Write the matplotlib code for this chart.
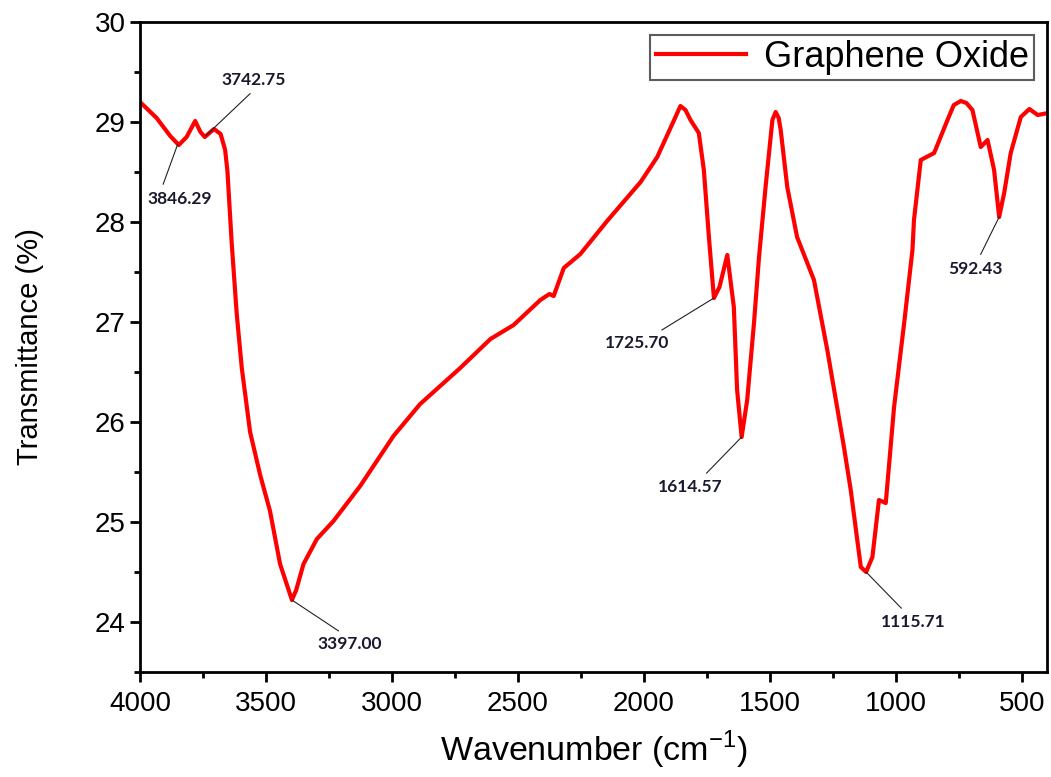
import numpy as np
import matplotlib
matplotlib.use("Agg")
import matplotlib.pyplot as plt
from matplotlib.ticker import MultipleLocator

# --- FTIR spectrum of graphene oxide ---
wavenumber = [4000, 3934, 3880, 3846, 3815, 3781, 3760, 3743, 3706, 3680, 3662,
              3653, 3636, 3616, 3596, 3563, 3523, 3484, 3444, 3410, 3397, 3380,
              3351, 3298, 3232, 3126, 2994, 2888, 2729, 2609, 2517, 2411, 2375,
              2358, 2318, 2252, 2146, 2013, 1947, 1880, 1855, 1835, 1815, 1782,
              1762, 1742, 1722, 1700, 1669, 1643, 1630, 1612, 1590, 1563, 1543,
              1517, 1490, 1477, 1465, 1457, 1431, 1392, 1325, 1272, 1206, 1179,
              1139, 1118, 1093, 1067, 1040, 1007, 967, 934, 928, 901, 848, 795,
              770, 742, 720, 696, 663, 636, 610, 590, 570, 544, 504, 470, 437, 395]
transmittance = [29.20, 29.04, 28.86, 28.77, 28.85, 29.01, 28.90, 28.85, 28.93, 28.88, 28.72,
                 28.51, 27.79, 27.08, 26.54, 25.90, 25.47, 25.11, 24.58, 24.32, 24.22, 24.32,
                 24.58, 24.83, 25.01, 25.36, 25.86, 26.18, 26.54, 26.83, 26.97, 27.22, 27.28,
                 27.26, 27.54, 27.68, 28.01, 28.40, 28.65, 29.02, 29.16, 29.12, 29.02, 28.89,
                 28.52, 27.85, 27.24, 27.35, 27.67, 27.15, 26.32, 25.85, 26.22, 26.99, 27.65,
                 28.35, 29.02, 29.10, 29.04, 28.92, 28.35, 27.85, 27.42, 26.72, 25.75, 25.32,
                 24.55, 24.50, 24.65, 25.22, 25.19, 26.15, 26.99, 27.72, 28.02, 28.62, 28.69, 29.02,
                 29.17, 29.21, 29.19, 29.12, 28.75, 28.82, 28.52, 28.05, 28.29, 28.69, 29.05, 29.13, 29.07, 29.09]

# peak labels: text, peak position, label position, where the leader meets the label
peak_labels = ["3846.29", "3742.75", "3397.00", "1725.70", "1614.57", "1115.71", "592.43"]
peak_xy = [(3850, 28.78), (3740, 28.86), (3397, 24.22), (1722, 27.24),
           (1612, 25.85), (1118, 24.50), (590, 28.05)]
label_xy = [(3841, 28.23), (3547, 29.42), (3166, 23.78), (2025, 26.79),
            (1815, 25.35), (930, 24.00), (685, 27.53)]
leader_rel = [(0.2, 1.0), (0.53, 0.0), (0.44, 1.0), (0.75, 1.0),
              (0.66, 1.0), (0.4, 1.0), (0.54, 1.0)]

plt.rcParams['font.family'] = ['Liberation Sans', 'DejaVu Sans']
plt.rcParams['mathtext.fontset'] = 'custom'
plt.rcParams['mathtext.rm'] = 'Liberation Sans'

fig = plt.figure(figsize=(10.51, 7.77), dpi=100)
ax = fig.add_axes([0.1332, 0.1351, 0.863, 0.8366])

ax.plot(wavenumber, transmittance, color='#ff0000', lw=3.0,
        solid_joinstyle='round', label='Graphene Oxide')

for txt, xy, xyt, rel in zip(peak_labels, peak_xy, label_xy, leader_rel):
    ax.annotate(txt, xy=xy, xytext=xyt, ha='center', va='center',
                fontsize=12.5, fontweight='bold', family='Lato', color='#1a1a2e',
                arrowprops=dict(arrowstyle='-', lw=0.8, color='#222222',
                                relpos=rel, shrinkA=3, shrinkB=0))

ax.set_xlim(4000, 400)
ax.set_ylim(23.5, 30)
ax.xaxis.set_major_locator(MultipleLocator(500))
ax.xaxis.set_minor_locator(MultipleLocator(250))
ax.yaxis.set_minor_locator(MultipleLocator(0.5))
ax.set_yticks([24, 25, 26, 27, 28, 29, 30])

for s in ax.spines.values():
    s.set_linewidth(2.0)
ax.tick_params(which='major', direction='out', length=7, width=2, labelsize=20)
ax.tick_params(axis='x', which='major', pad=7)
ax.tick_params(which='minor', direction='out', length=4, width=2)

ax.set_xlabel('Wavenumber (cm$^{\\mathregular{-1}}$)', fontsize=24.5, labelpad=8)
ax.set_ylabel('Transmittance (%)', fontsize=21, labelpad=36)

leg = ax.legend(loc='upper right', fontsize=26, frameon=True, fancybox=False,
                handlelength=2.5, borderpad=0.15, borderaxespad=0.35,
                handletextpad=0.5)
leg.get_frame().set_edgecolor('#333333')
leg.get_frame().set_linewidth(1.5)

fig.savefig('out.png', dpi=100)
